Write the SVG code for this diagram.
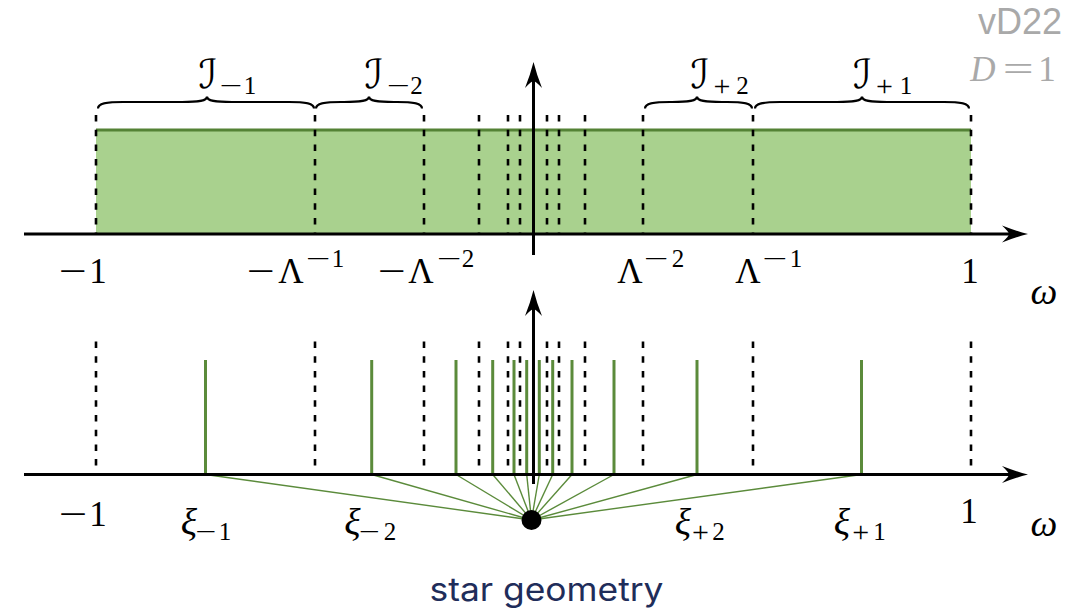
<svg xmlns="http://www.w3.org/2000/svg" width="1071" height="610" viewBox="0 0 1071 610">
<defs>
<style>
.ax{stroke:#000;stroke-width:3;fill:none}
.ah{fill:#000}
.dash{stroke:#000;stroke-width:2.6;stroke-dasharray:6.5 8.2;fill:none}
.spike{stroke:#5b8b3b;stroke-width:3}
.fan{stroke:#5b8b3b;stroke-width:1.4}
.brace{stroke:#000;stroke-width:2.2;fill:none}
.t{font-family:"Liberation Serif","Times New Roman",serif;font-size:35px;fill:#000}
.mid{text-anchor:middle}
.it{font-style:italic}
.sub{font-size:25px}
.plus{font-size:30px}
.big{font-size:38px}
.cal{font-family:"DejaVu Sans","Noto Sans",sans-serif;font-size:40px;fill:#000;text-anchor:middle}
.gray{fill:#a9a9a9}
.lbl{font-family:Inter,"Noto Sans",sans-serif;font-size:32px;font-weight:400;fill:#1f2d5a}
</style>
<path id="arr" d="M0,0 Q-12,-3 -26,-8.5 Q-19,-2 -19,0 Q-19,2 -26,8.5 Q-12,3 0,0Z"/>
</defs>
<rect width="1071" height="610" fill="#fff"/>

<g id="top-panel">
  <rect id="green-band" x="96" y="130" width="875" height="104" fill="#a9d18e"/>
  <line x1="96" y1="130" x2="971" y2="130" stroke="#548235" stroke-width="3"/>
  <g id="top-dashes">
    <line class="dash" x1="96" y1="115" x2="96" y2="234"/>
    <line class="dash" x1="315" y1="115" x2="315" y2="234"/>
    <line class="dash" x1="424" y1="115" x2="424" y2="234"/>
    <line class="dash" x1="479" y1="115" x2="479" y2="234"/>
    <line class="dash" x1="508" y1="115" x2="508" y2="234"/>
    <line class="dash" x1="520" y1="115" x2="520" y2="234"/>
    <line class="dash" x1="547" y1="115" x2="547" y2="234"/>
    <line class="dash" x1="559" y1="115" x2="559" y2="234"/>
    <line class="dash" x1="585" y1="115" x2="585" y2="234"/>
    <line class="dash" x1="643" y1="115" x2="643" y2="234"/>
    <line class="dash" x1="753" y1="115" x2="753" y2="234"/>
    <line class="dash" x1="971" y1="115" x2="971" y2="234"/>
  </g>
  <g id="top-axes">
    <line class="ax" x1="24" y1="234" x2="1010" y2="234"/>
    <use href="#arr" class="ah" transform="translate(1028,234)"/>
    <line class="ax" x1="533.5" y1="255" x2="533.5" y2="80"/>
    <use href="#arr" class="ah" transform="translate(533.5,62) rotate(-90)"/>
  </g>
  <g id="braces">
    <path class="brace" d="M98,108.5 C98,103.5 106,102 123,102 L182,102 C199,102 207,101 207,96.5 C207,101 215,102 232,102 L289,102 C306,102 314,103.5 314,108.5"/>
    <path class="brace" d="M316,108.5 C316,103.5 324,102 341,102 L344,102 C361,102 369,101 369,96.5 C369,101 377,102 394,102 L397,102 C414,102 422,103.5 422,108.5"/>
    <path class="brace" d="M645,108.5 C645,103.5 653,102 670,102 L672,102 C689,102 697,101 697,96.5 C697,101 705,102 722,102 L727,102 C744,102 752,103.5 752,108.5"/>
    <path class="brace" d="M755,108.5 C755,103.5 763,102 780,102 L837,102 C854,102 862,101 862,96.5 C862,101 870,102 887,102 L944,102 C961,102 969,103.5 969,108.5"/>
  </g>
  <g id="brace-labels">
    <text class="cal" x="208" y="88">ℐ</text>
    <text class="t sub" x="219.5" y="94" textLength="22.7" lengthAdjust="spacingAndGlyphs">−</text>
    <text class="t sub mid" x="250" y="94">1</text>
    <text class="cal" x="374" y="88">ℐ</text>
    <text class="t sub" x="386.8" y="94" textLength="23" lengthAdjust="spacingAndGlyphs">−</text>
    <text class="t sub mid" x="416.5" y="94">2</text>
    <text class="cal" x="700" y="88">ℐ</text>
    <text class="t plus mid" x="722" y="96">+</text>
    <text class="t sub mid" x="742.5" y="94">2</text>
    <text class="cal" x="862.5" y="88">ℐ</text>
    <text class="t plus mid" x="884.5" y="96">+</text>
    <text class="t sub mid" x="906" y="94">1</text>
  </g>
  <g id="top-tick-labels">
    <text class="t" x="58.8" y="283" textLength="28" lengthAdjust="spacingAndGlyphs">−</text>
    <text class="t mid" x="98" y="283">1</text>
    <text class="t" x="246.8" y="283" textLength="28" lengthAdjust="spacingAndGlyphs">−</text>
    <text class="t mid" x="291" y="283">Λ</text>
    <text class="t sub" x="305.8" y="267" textLength="24.6" lengthAdjust="spacingAndGlyphs">−</text>
    <text class="t sub mid" x="338" y="267">1</text>
    <text class="t" x="377.8" y="283" textLength="28" lengthAdjust="spacingAndGlyphs">−</text>
    <text class="t mid" x="421" y="283">Λ</text>
    <text class="t sub" x="436.8" y="267" textLength="24.6" lengthAdjust="spacingAndGlyphs">−</text>
    <text class="t sub mid" x="468" y="267">2</text>
    <text class="t mid" x="630" y="283">Λ</text>
    <text class="t sub" x="643.8" y="267" textLength="24.6" lengthAdjust="spacingAndGlyphs">−</text>
    <text class="t sub mid" x="678" y="267">2</text>
    <text class="t mid" x="748" y="283">Λ</text>
    <text class="t sub" x="762.3" y="267" textLength="25" lengthAdjust="spacingAndGlyphs">−</text>
    <text class="t sub mid" x="796" y="267">1</text>
    <text class="t mid" x="970" y="283">1</text>
    <text class="t it big mid" x="1044" y="304">ω</text>
  </g>
</g>

<g id="bottom-panel">
  <g id="bottom-dashes">
    <line class="dash" x1="96" y1="341.5" x2="96" y2="474"/>
    <line class="dash" x1="315" y1="341.5" x2="315" y2="474"/>
    <line class="dash" x1="424" y1="341.5" x2="424" y2="474"/>
    <line class="dash" x1="479" y1="341.5" x2="479" y2="474"/>
    <line class="dash" x1="508" y1="341.5" x2="508" y2="474"/>
    <line class="dash" x1="520" y1="341.5" x2="520" y2="474"/>
    <line class="dash" x1="547" y1="341.5" x2="547" y2="474"/>
    <line class="dash" x1="559" y1="341.5" x2="559" y2="474"/>
    <line class="dash" x1="585" y1="341.5" x2="585" y2="474"/>
    <line class="dash" x1="643" y1="341.5" x2="643" y2="474"/>
    <line class="dash" x1="753" y1="341.5" x2="753" y2="474"/>
    <line class="dash" x1="971" y1="341.5" x2="971" y2="474"/>
  </g>
  <g id="connectors">
    <line class="fan" x1="531.5" y1="520" x2="205.5" y2="474.5"/>
    <line class="fan" x1="531.5" y1="520" x2="371.7" y2="474.5"/>
    <line class="fan" x1="531.5" y1="520" x2="456" y2="474.5"/>
    <line class="fan" x1="531.5" y1="520" x2="492.7" y2="474.5"/>
    <line class="fan" x1="531.5" y1="520" x2="514" y2="474.5"/>
    <line class="fan" x1="531.5" y1="520" x2="526.7" y2="474.5"/>
    <line class="fan" x1="531.5" y1="520" x2="539.3" y2="474.5"/>
    <line class="fan" x1="531.5" y1="520" x2="552.7" y2="474.5"/>
    <line class="fan" x1="531.5" y1="520" x2="572" y2="474.5"/>
    <line class="fan" x1="531.5" y1="520" x2="614" y2="474.5"/>
    <line class="fan" x1="531.5" y1="520" x2="697" y2="474.5"/>
    <line class="fan" x1="531.5" y1="520" x2="861.5" y2="474.5"/>
  </g>
  <g id="spikes">
    <line class="spike" x1="205.5" y1="360" x2="205.5" y2="474.5"/>
    <line class="spike" x1="371.7" y1="360" x2="371.7" y2="474.5"/>
    <line class="spike" x1="456" y1="360" x2="456" y2="474.5"/>
    <line class="spike" x1="492.7" y1="360" x2="492.7" y2="474.5"/>
    <line class="spike" x1="514" y1="360" x2="514" y2="474.5"/>
    <line class="spike" x1="526.7" y1="360" x2="526.7" y2="474.5"/>
    <line class="spike" x1="539.3" y1="360" x2="539.3" y2="474.5"/>
    <line class="spike" x1="552.7" y1="360" x2="552.7" y2="474.5"/>
    <line class="spike" x1="572" y1="360" x2="572" y2="474.5"/>
    <line class="spike" x1="614" y1="360" x2="614" y2="474.5"/>
    <line class="spike" x1="697" y1="360" x2="697" y2="474.5"/>
    <line class="spike" x1="861.5" y1="360" x2="861.5" y2="474.5"/>
  </g>
  <g id="bottom-axes">
    <line class="ax" x1="24" y1="474.5" x2="1010" y2="474.5"/>
    <use href="#arr" class="ah" transform="translate(1028,474.5)"/>
    <line class="ax" x1="533.5" y1="484" x2="533.5" y2="306"/>
    <use href="#arr" class="ah" transform="translate(533.5,290) rotate(-90)"/>
  </g>
  <g id="star-node">
    <circle cx="531.5" cy="520" r="10" fill="#000"/>
  </g>
  <g id="bottom-tick-labels">
    <text class="t" x="58.8" y="525.5" textLength="28.5" lengthAdjust="spacingAndGlyphs">−</text>
    <text class="t mid" x="98" y="525.5">1</text>
    <text class="t it big mid" x="189" y="535">ξ</text>
    <text class="t sub" x="195.3" y="540" textLength="21" lengthAdjust="spacingAndGlyphs">−</text>
    <text class="t sub mid" x="225" y="540">1</text>
    <text class="t it big mid" x="352.5" y="535">ξ</text>
    <text class="t sub" x="358.8" y="540" textLength="21" lengthAdjust="spacingAndGlyphs">−</text>
    <text class="t sub mid" x="390" y="540">2</text>
    <text class="t it big mid" x="683" y="535">ξ</text>
    <text class="t plus mid" x="700.5" y="542">+</text>
    <text class="t sub mid" x="718.5" y="540">2</text>
    <text class="t it big mid" x="842" y="535">ξ</text>
    <text class="t plus mid" x="860.7" y="542">+</text>
    <text class="t sub mid" x="879.5" y="540">1</text>
    <text class="t mid" x="969" y="523">1</text>
    <text class="t it big mid" x="1044" y="536">ω</text>
  </g>
  <g id="star-label">
    <text class="lbl" x="546.5" y="601" text-anchor="middle" textLength="234" lengthAdjust="spacingAndGlyphs">star geometry</text>
  </g>
</g>

<g id="version-tag">
  <text x="1062" y="34" text-anchor="end" font-family="'Liberation Sans',Arial,sans-serif" font-size="36" fill="#a9a9a9">vD22</text>
  <text class="t it gray mid" x="983" y="81" font-size="38">D</text>
  <text class="t gray" x="1002.8" y="81" textLength="31" lengthAdjust="spacingAndGlyphs">=</text>
  <text class="t gray mid" x="1047" y="81" font-size="38">1</text>
</g>
</svg>
